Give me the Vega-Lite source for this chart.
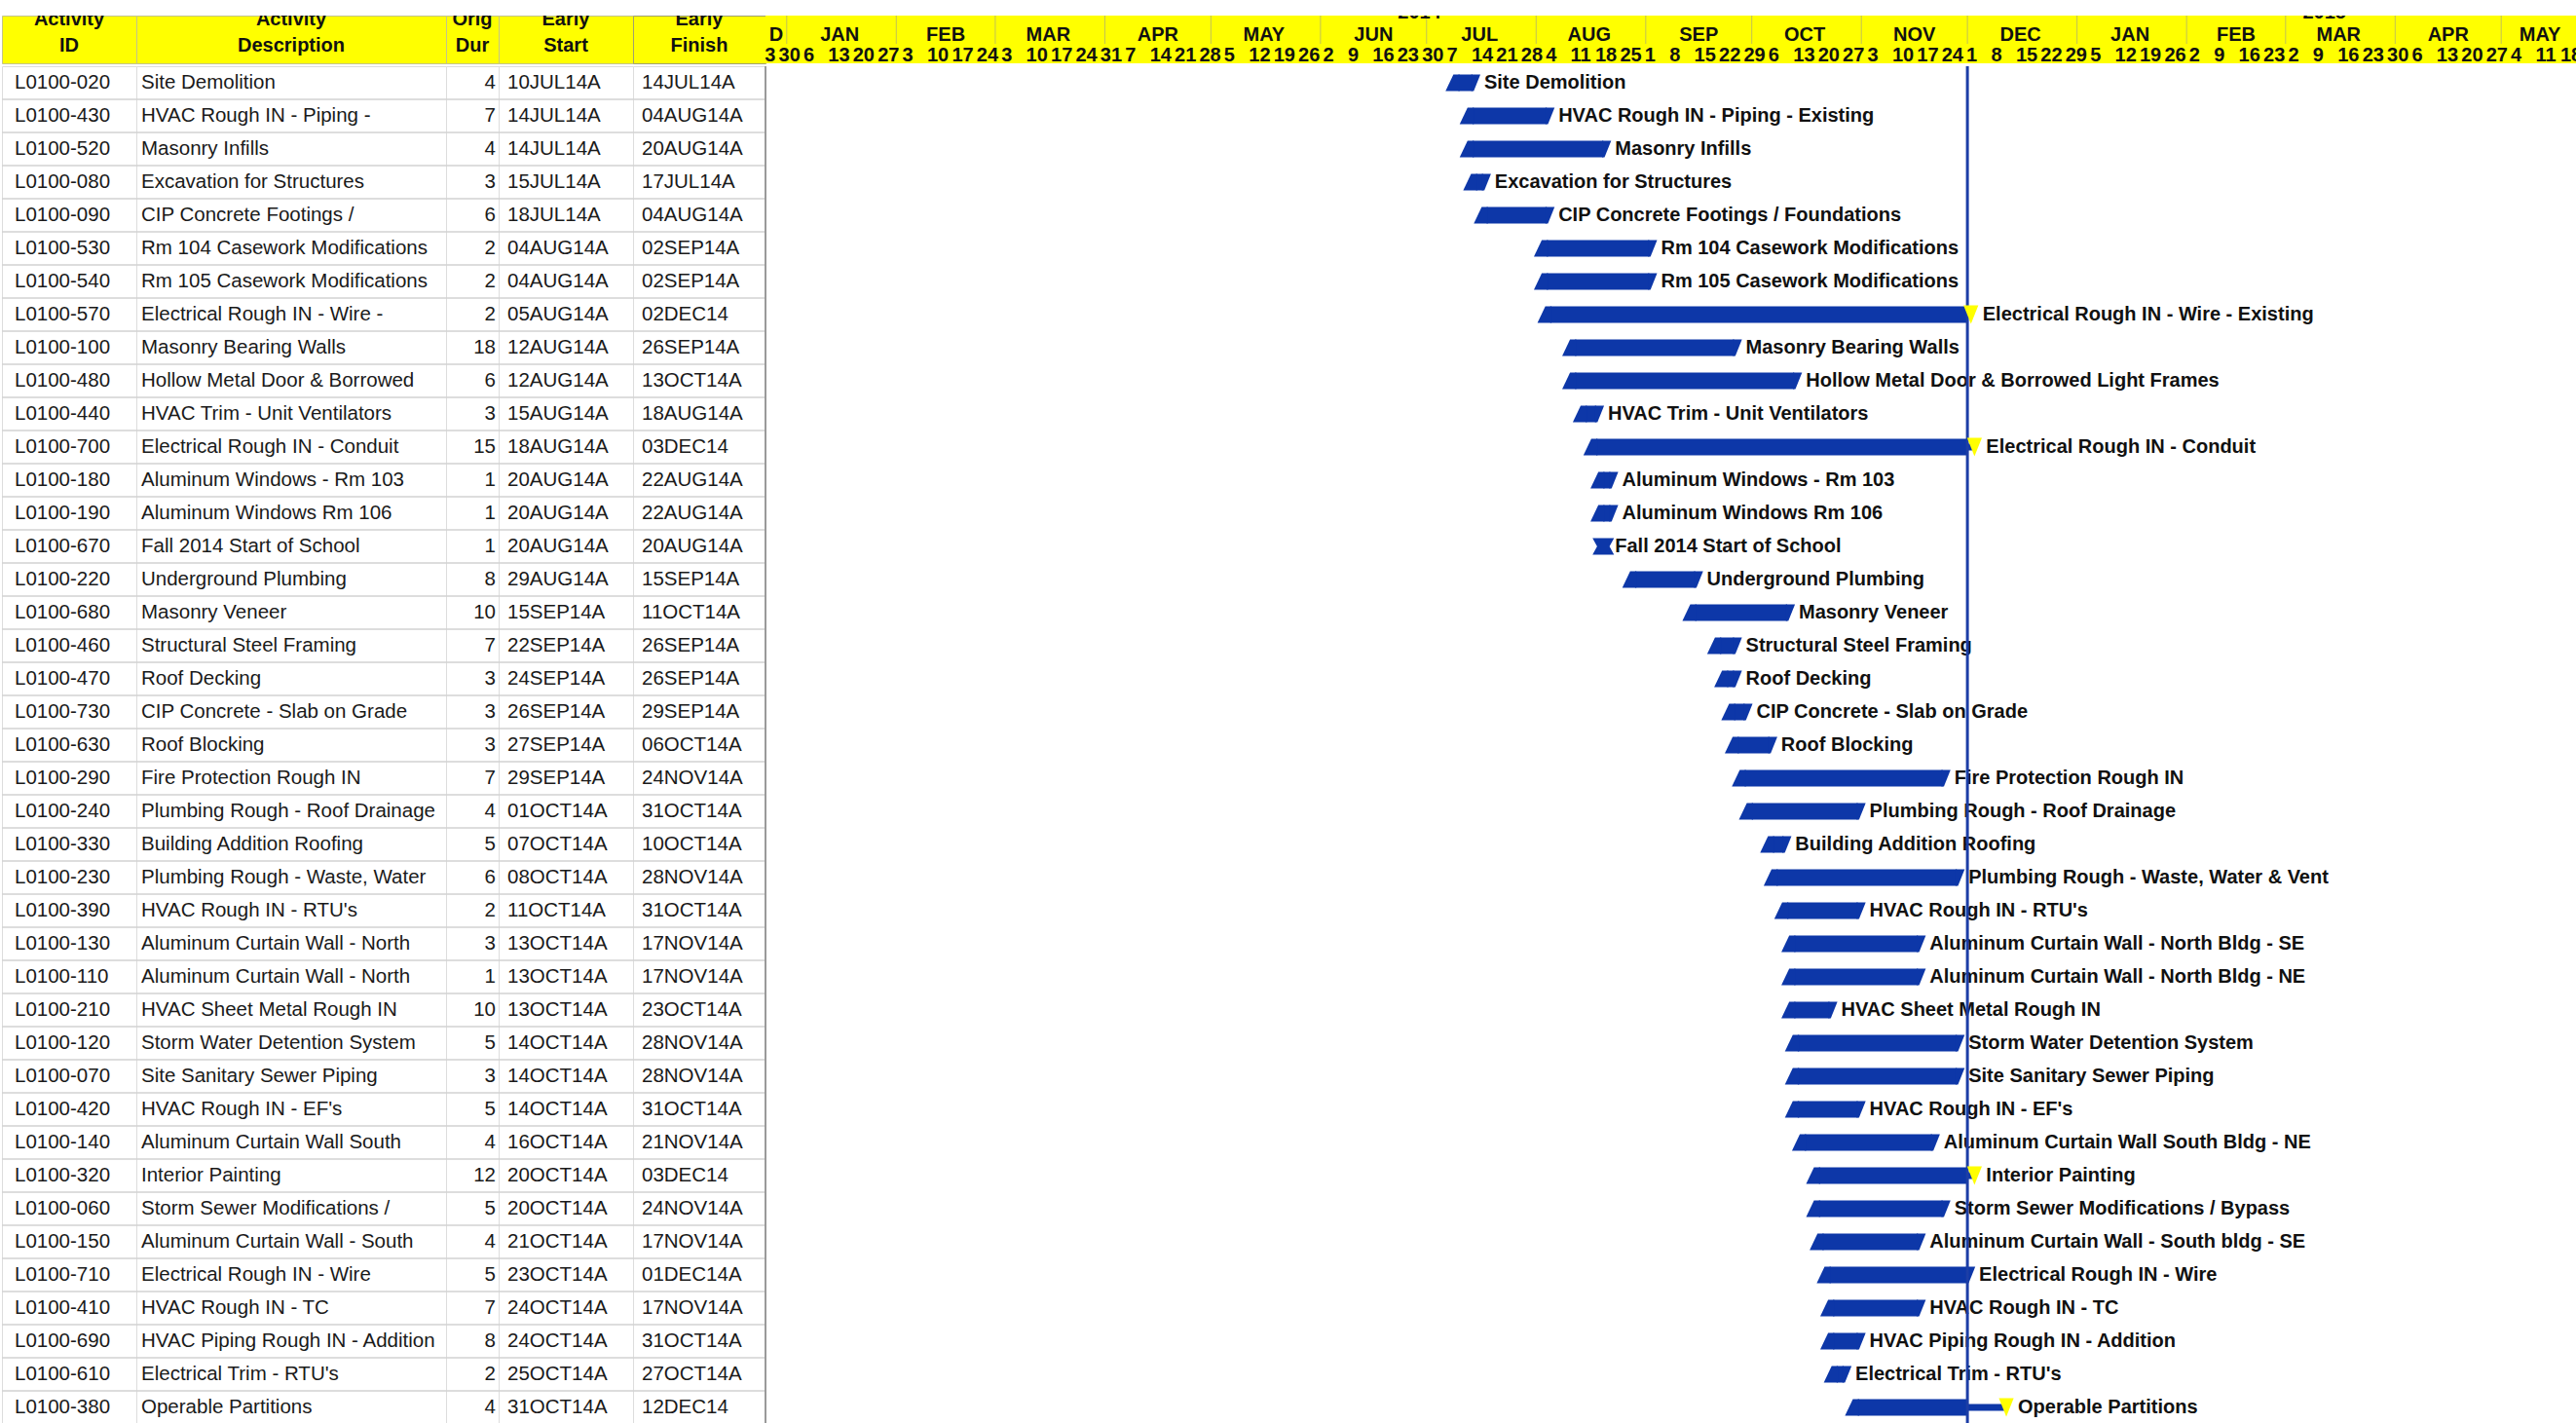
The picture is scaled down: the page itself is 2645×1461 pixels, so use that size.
{
  "$schema": "https://vega.github.io/schema/vega-lite/v6.json",
  "background": "white",
  "padding": {"top": 15, "left": 0, "right": 0, "bottom": 0},
  "spacing": 0,
  "datasets": {
    "headers": [
      {"col": "id", "line1": "Activity", "line2": "ID"},
      {"col": "desc", "line1": "Activity", "line2": "Description"},
      {"col": "dur", "line1": "Orig", "line2": "Dur"},
      {"col": "start", "line1": "Early", "line2": "Start"},
      {"col": "finish", "line1": "Early", "line2": "Finish"}
    ],
    "years": [
      {"year": "2014", "mid": "2014/06/29"},
      {"year": "2015", "mid": "2015/03/12"}
    ],
    "months": [
      {"label": "D", "start": "2013/12/01", "mid": "2013/12/29"},
      {"label": "JAN", "start": "2014/01/01", "mid": "2014/01/16"},
      {"label": "FEB", "start": "2014/02/01", "mid": "2014/02/15"},
      {"label": "MAR", "start": "2014/03/01", "mid": "2014/03/16"},
      {"label": "APR", "start": "2014/04/01", "mid": "2014/04/16"},
      {"label": "MAY", "start": "2014/05/01", "mid": "2014/05/16"},
      {"label": "JUN", "start": "2014/06/01", "mid": "2014/06/16"},
      {"label": "JUL", "start": "2014/07/01", "mid": "2014/07/16"},
      {"label": "AUG", "start": "2014/08/01", "mid": "2014/08/16"},
      {"label": "SEP", "start": "2014/09/01", "mid": "2014/09/16"},
      {"label": "OCT", "start": "2014/10/01", "mid": "2014/10/16"},
      {"label": "NOV", "start": "2014/11/01", "mid": "2014/11/16"},
      {"label": "DEC", "start": "2014/12/01", "mid": "2014/12/16"},
      {"label": "JAN", "start": "2015/01/01", "mid": "2015/01/16"},
      {"label": "FEB", "start": "2015/02/01", "mid": "2015/02/15"},
      {"label": "MAR", "start": "2015/03/01", "mid": "2015/03/16"},
      {"label": "APR", "start": "2015/04/01", "mid": "2015/04/16"},
      {"label": "MAY", "start": "2015/05/01", "mid": "2015/05/12"}
    ],
    "weeks": [
      {"w": "2013/12/23"}, {"w": "2013/12/30"},
      {"w": "2014/01/06"}, {"w": "2014/01/13"}, {"w": "2014/01/20"}, {"w": "2014/01/27"},
      {"w": "2014/02/03"}, {"w": "2014/02/10"}, {"w": "2014/02/17"}, {"w": "2014/02/24"},
      {"w": "2014/03/03"}, {"w": "2014/03/10"}, {"w": "2014/03/17"}, {"w": "2014/03/24"}, {"w": "2014/03/31"},
      {"w": "2014/04/07"}, {"w": "2014/04/14"}, {"w": "2014/04/21"}, {"w": "2014/04/28"},
      {"w": "2014/05/05"}, {"w": "2014/05/12"}, {"w": "2014/05/19"}, {"w": "2014/05/26"},
      {"w": "2014/06/02"}, {"w": "2014/06/09"}, {"w": "2014/06/16"}, {"w": "2014/06/23"}, {"w": "2014/06/30"},
      {"w": "2014/07/07"}, {"w": "2014/07/14"}, {"w": "2014/07/21"}, {"w": "2014/07/28"},
      {"w": "2014/08/04"}, {"w": "2014/08/11"}, {"w": "2014/08/18"}, {"w": "2014/08/25"},
      {"w": "2014/09/01"}, {"w": "2014/09/08"}, {"w": "2014/09/15"}, {"w": "2014/09/22"}, {"w": "2014/09/29"},
      {"w": "2014/10/06"}, {"w": "2014/10/13"}, {"w": "2014/10/20"}, {"w": "2014/10/27"},
      {"w": "2014/11/03"}, {"w": "2014/11/10"}, {"w": "2014/11/17"}, {"w": "2014/11/24"},
      {"w": "2014/12/01"}, {"w": "2014/12/08"}, {"w": "2014/12/15"}, {"w": "2014/12/22"}, {"w": "2014/12/29"},
      {"w": "2015/01/05"}, {"w": "2015/01/12"}, {"w": "2015/01/19"}, {"w": "2015/01/26"},
      {"w": "2015/02/02"}, {"w": "2015/02/09"}, {"w": "2015/02/16"}, {"w": "2015/02/23"},
      {"w": "2015/03/02"}, {"w": "2015/03/09"}, {"w": "2015/03/16"}, {"w": "2015/03/23"}, {"w": "2015/03/30"},
      {"w": "2015/04/06"}, {"w": "2015/04/13"}, {"w": "2015/04/20"}, {"w": "2015/04/27"},
      {"w": "2015/05/04"}, {"w": "2015/05/11"}, {"w": "2015/05/18"}
    ],
    "datadate": [{"d": "2014/12/01"}],
    "rows": [
      {"id": "L0100-020", "desc": "Site Demolition", "name": "Site Demolition", "dur": 4, "es": "10JUL14A", "ef": "14JUL14A", "start": "2014/07/10", "finish": "2014/07/14", "barEnd": "2014/07/14", "status": "done"},
      {"id": "L0100-430", "desc": "HVAC Rough IN - Piping -", "name": "HVAC Rough IN - Piping - Existing", "dur": 7, "es": "14JUL14A", "ef": "04AUG14A", "start": "2014/07/14", "finish": "2014/08/04", "barEnd": "2014/08/04", "status": "done"},
      {"id": "L0100-520", "desc": "Masonry Infills", "name": "Masonry Infills", "dur": 4, "es": "14JUL14A", "ef": "20AUG14A", "start": "2014/07/14", "finish": "2014/08/20", "barEnd": "2014/08/20", "status": "done"},
      {"id": "L0100-080", "desc": "Excavation for Structures", "name": "Excavation for Structures", "dur": 3, "es": "15JUL14A", "ef": "17JUL14A", "start": "2014/07/15", "finish": "2014/07/17", "barEnd": "2014/07/17", "status": "done"},
      {"id": "L0100-090", "desc": "CIP Concrete Footings /", "name": "CIP Concrete Footings / Foundations", "dur": 6, "es": "18JUL14A", "ef": "04AUG14A", "start": "2014/07/18", "finish": "2014/08/04", "barEnd": "2014/08/04", "status": "done"},
      {"id": "L0100-530", "desc": "Rm 104 Casework Modifications", "name": "Rm 104 Casework Modifications", "dur": 2, "es": "04AUG14A", "ef": "02SEP14A", "start": "2014/08/04", "finish": "2014/09/02", "barEnd": "2014/09/02", "status": "done"},
      {"id": "L0100-540", "desc": "Rm 105 Casework Modifications", "name": "Rm 105 Casework Modifications", "dur": 2, "es": "04AUG14A", "ef": "02SEP14A", "start": "2014/08/04", "finish": "2014/09/02", "barEnd": "2014/09/02", "status": "done"},
      {"id": "L0100-570", "desc": "Electrical Rough IN - Wire -", "name": "Electrical Rough IN - Wire - Existing", "dur": 2, "es": "05AUG14A", "ef": "02DEC14", "start": "2014/08/05", "finish": "2014/12/02", "barEnd": "2014/12/01", "status": "active"},
      {"id": "L0100-100", "desc": "Masonry Bearing Walls", "name": "Masonry Bearing Walls", "dur": 18, "es": "12AUG14A", "ef": "26SEP14A", "start": "2014/08/12", "finish": "2014/09/26", "barEnd": "2014/09/26", "status": "done"},
      {"id": "L0100-480", "desc": "Hollow Metal Door & Borrowed", "name": "Hollow Metal Door & Borrowed Light Frames", "dur": 6, "es": "12AUG14A", "ef": "13OCT14A", "start": "2014/08/12", "finish": "2014/10/13", "barEnd": "2014/10/13", "status": "done"},
      {"id": "L0100-440", "desc": "HVAC Trim - Unit Ventilators", "name": "HVAC Trim - Unit Ventilators", "dur": 3, "es": "15AUG14A", "ef": "18AUG14A", "start": "2014/08/15", "finish": "2014/08/18", "barEnd": "2014/08/18", "status": "done"},
      {"id": "L0100-700", "desc": "Electrical Rough IN - Conduit", "name": "Electrical Rough IN - Conduit", "dur": 15, "es": "18AUG14A", "ef": "03DEC14", "start": "2014/08/18", "finish": "2014/12/03", "barEnd": "2014/12/01", "status": "active"},
      {"id": "L0100-180", "desc": "Aluminum Windows - Rm 103", "name": "Aluminum Windows - Rm 103", "dur": 1, "es": "20AUG14A", "ef": "22AUG14A", "start": "2014/08/20", "finish": "2014/08/22", "barEnd": "2014/08/22", "status": "done"},
      {"id": "L0100-190", "desc": "Aluminum Windows Rm 106", "name": "Aluminum Windows Rm 106", "dur": 1, "es": "20AUG14A", "ef": "22AUG14A", "start": "2014/08/20", "finish": "2014/08/22", "barEnd": "2014/08/22", "status": "done"},
      {"id": "L0100-670", "desc": "Fall 2014 Start of School", "name": "Fall 2014 Start of School", "dur": 1, "es": "20AUG14A", "ef": "20AUG14A", "start": "2014/08/20", "finish": "2014/08/20", "barEnd": "2014/08/20", "status": "milestone"},
      {"id": "L0100-220", "desc": "Underground Plumbing", "name": "Underground Plumbing", "dur": 8, "es": "29AUG14A", "ef": "15SEP14A", "start": "2014/08/29", "finish": "2014/09/15", "barEnd": "2014/09/15", "status": "done"},
      {"id": "L0100-680", "desc": "Masonry Veneer", "name": "Masonry Veneer", "dur": 10, "es": "15SEP14A", "ef": "11OCT14A", "start": "2014/09/15", "finish": "2014/10/11", "barEnd": "2014/10/11", "status": "done"},
      {"id": "L0100-460", "desc": "Structural Steel Framing", "name": "Structural Steel Framing", "dur": 7, "es": "22SEP14A", "ef": "26SEP14A", "start": "2014/09/22", "finish": "2014/09/26", "barEnd": "2014/09/26", "status": "done"},
      {"id": "L0100-470", "desc": "Roof Decking", "name": "Roof Decking", "dur": 3, "es": "24SEP14A", "ef": "26SEP14A", "start": "2014/09/24", "finish": "2014/09/26", "barEnd": "2014/09/26", "status": "done"},
      {"id": "L0100-730", "desc": "CIP Concrete - Slab on Grade", "name": "CIP Concrete - Slab on Grade", "dur": 3, "es": "26SEP14A", "ef": "29SEP14A", "start": "2014/09/26", "finish": "2014/09/29", "barEnd": "2014/09/29", "status": "done"},
      {"id": "L0100-630", "desc": "Roof Blocking", "name": "Roof Blocking", "dur": 3, "es": "27SEP14A", "ef": "06OCT14A", "start": "2014/09/27", "finish": "2014/10/06", "barEnd": "2014/10/06", "status": "done"},
      {"id": "L0100-290", "desc": "Fire Protection Rough IN", "name": "Fire Protection Rough IN", "dur": 7, "es": "29SEP14A", "ef": "24NOV14A", "start": "2014/09/29", "finish": "2014/11/24", "barEnd": "2014/11/24", "status": "done"},
      {"id": "L0100-240", "desc": "Plumbing Rough - Roof Drainage", "name": "Plumbing Rough - Roof Drainage", "dur": 4, "es": "01OCT14A", "ef": "31OCT14A", "start": "2014/10/01", "finish": "2014/10/31", "barEnd": "2014/10/31", "status": "done"},
      {"id": "L0100-330", "desc": "Building Addition Roofing", "name": "Building Addition Roofing", "dur": 5, "es": "07OCT14A", "ef": "10OCT14A", "start": "2014/10/07", "finish": "2014/10/10", "barEnd": "2014/10/10", "status": "done"},
      {"id": "L0100-230", "desc": "Plumbing Rough - Waste, Water", "name": "Plumbing Rough - Waste, Water & Vent", "dur": 6, "es": "08OCT14A", "ef": "28NOV14A", "start": "2014/10/08", "finish": "2014/11/28", "barEnd": "2014/11/28", "status": "done"},
      {"id": "L0100-390", "desc": "HVAC Rough IN - RTU's", "name": "HVAC Rough IN - RTU's", "dur": 2, "es": "11OCT14A", "ef": "31OCT14A", "start": "2014/10/11", "finish": "2014/10/31", "barEnd": "2014/10/31", "status": "done"},
      {"id": "L0100-130", "desc": "Aluminum Curtain Wall - North", "name": "Aluminum Curtain Wall - North Bldg - SE", "dur": 3, "es": "13OCT14A", "ef": "17NOV14A", "start": "2014/10/13", "finish": "2014/11/17", "barEnd": "2014/11/17", "status": "done"},
      {"id": "L0100-110", "desc": "Aluminum Curtain Wall - North", "name": "Aluminum Curtain Wall - North Bldg - NE", "dur": 1, "es": "13OCT14A", "ef": "17NOV14A", "start": "2014/10/13", "finish": "2014/11/17", "barEnd": "2014/11/17", "status": "done"},
      {"id": "L0100-210", "desc": "HVAC Sheet Metal Rough IN", "name": "HVAC Sheet Metal Rough IN", "dur": 10, "es": "13OCT14A", "ef": "23OCT14A", "start": "2014/10/13", "finish": "2014/10/23", "barEnd": "2014/10/23", "status": "done"},
      {"id": "L0100-120", "desc": "Storm Water Detention System", "name": "Storm Water Detention System", "dur": 5, "es": "14OCT14A", "ef": "28NOV14A", "start": "2014/10/14", "finish": "2014/11/28", "barEnd": "2014/11/28", "status": "done"},
      {"id": "L0100-070", "desc": "Site Sanitary Sewer Piping", "name": "Site Sanitary Sewer Piping", "dur": 3, "es": "14OCT14A", "ef": "28NOV14A", "start": "2014/10/14", "finish": "2014/11/28", "barEnd": "2014/11/28", "status": "done"},
      {"id": "L0100-420", "desc": "HVAC Rough IN - EF's", "name": "HVAC Rough IN - EF's", "dur": 5, "es": "14OCT14A", "ef": "31OCT14A", "start": "2014/10/14", "finish": "2014/10/31", "barEnd": "2014/10/31", "status": "done"},
      {"id": "L0100-140", "desc": "Aluminum Curtain Wall South", "name": "Aluminum Curtain Wall South Bldg - NE", "dur": 4, "es": "16OCT14A", "ef": "21NOV14A", "start": "2014/10/16", "finish": "2014/11/21", "barEnd": "2014/11/21", "status": "done"},
      {"id": "L0100-320", "desc": "Interior Painting", "name": "Interior Painting", "dur": 12, "es": "20OCT14A", "ef": "03DEC14", "start": "2014/10/20", "finish": "2014/12/03", "barEnd": "2014/12/01", "status": "active"},
      {"id": "L0100-060", "desc": "Storm Sewer Modifications /", "name": "Storm Sewer Modifications / Bypass", "dur": 5, "es": "20OCT14A", "ef": "24NOV14A", "start": "2014/10/20", "finish": "2014/11/24", "barEnd": "2014/11/24", "status": "done"},
      {"id": "L0100-150", "desc": "Aluminum Curtain Wall - South", "name": "Aluminum Curtain Wall - South bldg - SE", "dur": 4, "es": "21OCT14A", "ef": "17NOV14A", "start": "2014/10/21", "finish": "2014/11/17", "barEnd": "2014/11/17", "status": "done"},
      {"id": "L0100-710", "desc": "Electrical Rough IN - Wire", "name": "Electrical Rough IN - Wire", "dur": 5, "es": "23OCT14A", "ef": "01DEC14A", "start": "2014/10/23", "finish": "2014/12/01", "barEnd": "2014/12/01", "status": "done"},
      {"id": "L0100-410", "desc": "HVAC Rough IN - TC", "name": "HVAC Rough IN - TC", "dur": 7, "es": "24OCT14A", "ef": "17NOV14A", "start": "2014/10/24", "finish": "2014/11/17", "barEnd": "2014/11/17", "status": "done"},
      {"id": "L0100-690", "desc": "HVAC Piping Rough IN - Addition", "name": "HVAC Piping Rough IN - Addition", "dur": 8, "es": "24OCT14A", "ef": "31OCT14A", "start": "2014/10/24", "finish": "2014/10/31", "barEnd": "2014/10/31", "status": "done"},
      {"id": "L0100-610", "desc": "Electrical Trim - RTU's", "name": "Electrical Trim - RTU's", "dur": 2, "es": "25OCT14A", "ef": "27OCT14A", "start": "2014/10/25", "finish": "2014/10/27", "barEnd": "2014/10/27", "status": "done"},
      {"id": "L0100-380", "desc": "Operable Partitions", "name": "Operable Partitions", "dur": 4, "es": "31OCT14A", "ef": "12DEC14", "start": "2014/10/31", "finish": "2014/12/12", "barEnd": "2014/12/01", "status": "active"}
    ]
  },
  "vconcat": [
    {
      "spacing": 0,
      "bounds": "flush",
      "hconcat": [
        {
          "width": 138, "height": 49,
          "view": {"fill": "#ffff00", "stroke": "#c4c48a"},
          "data": {"name": "headers"},
          "transform": [{"filter": "datum.col == 'id'"}],
          "layer": [
            {"mark": {"type": "text", "font": "Liberation Sans", "fontWeight": "bold", "fontSize": 20, "dy": -20.5, "clip": true, "color": "#111111"}, "encoding": {"text": {"field": "line1"}}},
            {"mark": {"type": "text", "font": "Liberation Sans", "fontWeight": "bold", "fontSize": 20, "dy": 6.5, "clip": true, "color": "#111111"}, "encoding": {"text": {"field": "line2"}}}
          ]
        },
        {
          "width": 318, "height": 49,
          "view": {"fill": "#ffff00", "stroke": "#c4c48a"},
          "data": {"name": "headers"},
          "transform": [{"filter": "datum.col == 'desc'"}],
          "layer": [
            {"mark": {"type": "text", "font": "Liberation Sans", "fontWeight": "bold", "fontSize": 20, "dy": -20.5, "clip": true, "color": "#111111"}, "encoding": {"text": {"field": "line1"}}},
            {"mark": {"type": "text", "font": "Liberation Sans", "fontWeight": "bold", "fontSize": 20, "dy": 6.5, "clip": true, "color": "#111111"}, "encoding": {"text": {"field": "line2"}}}
          ]
        },
        {
          "width": 54, "height": 49,
          "view": {"fill": "#ffff00", "stroke": "#c4c48a"},
          "data": {"name": "headers"},
          "transform": [{"filter": "datum.col == 'dur'"}],
          "layer": [
            {"mark": {"type": "text", "font": "Liberation Sans", "fontWeight": "bold", "fontSize": 20, "dy": -20.5, "clip": true, "color": "#111111"}, "encoding": {"text": {"field": "line1"}}},
            {"mark": {"type": "text", "font": "Liberation Sans", "fontWeight": "bold", "fontSize": 20, "dy": 6.5, "clip": true, "color": "#111111"}, "encoding": {"text": {"field": "line2"}}}
          ]
        },
        {
          "width": 138, "height": 49,
          "view": {"fill": "#ffff00", "stroke": "#c4c48a"},
          "data": {"name": "headers"},
          "transform": [{"filter": "datum.col == 'start'"}],
          "layer": [
            {"mark": {"type": "text", "font": "Liberation Sans", "fontWeight": "bold", "fontSize": 20, "dy": -20.5, "clip": true, "color": "#111111"}, "encoding": {"text": {"field": "line1"}}},
            {"mark": {"type": "text", "font": "Liberation Sans", "fontWeight": "bold", "fontSize": 20, "dy": 6.5, "clip": true, "color": "#111111"}, "encoding": {"text": {"field": "line2"}}}
          ]
        },
        {
          "width": 136, "height": 49,
          "view": {"fill": "#ffff00", "stroke": "#a0a070"},
          "data": {"name": "headers"},
          "transform": [{"filter": "datum.col == 'finish'"}],
          "layer": [
            {"mark": {"type": "text", "font": "Liberation Sans", "fontWeight": "bold", "fontSize": 20, "dy": -20.5, "clip": true, "color": "#111111"}, "encoding": {"text": {"field": "line1"}}},
            {"mark": {"type": "text", "font": "Liberation Sans", "fontWeight": "bold", "fontSize": 20, "dy": 6.5, "clip": true, "color": "#111111"}, "encoding": {"text": {"field": "line2"}}}
          ]
        },
        {
          "width": 1861, "height": 49,
          "view": {"fill": "#ffff00", "stroke": null},
          "layer": [
            {
              "data": {"name": "months"},
              "mark": {"type": "tick", "orient": "vertical", "size": 29, "thickness": 1, "yOffset": -10, "color": "#a8a878", "clip": true},
              "encoding": {"x": {"field": "start", "type": "temporal", "axis": null, "scale": {"domain": [{"year": 2013, "month": 12, "date": 26}, {"year": 2015, "month": 5, "date": 22, "hours": 17}], "nice": false}}}
            },
            {
              "data": {"name": "months"},
              "mark": {"type": "text", "font": "Liberation Sans", "fontWeight": "bold", "fontSize": 20, "dy": -4.5, "clip": true, "color": "#111111"},
              "encoding": {"x": {"field": "mid", "type": "temporal", "axis": null}, "text": {"field": "label"}}
            },
            {
              "data": {"name": "weeks"},
              "mark": {"type": "text", "font": "Liberation Sans", "fontWeight": "bold", "fontSize": 20, "align": "left", "dx": -1, "dy": 16.5, "clip": true, "color": "#111111"},
              "encoding": {"x": {"field": "w", "type": "temporal", "axis": null}, "text": {"field": "w", "type": "temporal", "format": "%-d"}}
            },
            {
              "data": {"name": "years"},
              "mark": {"type": "text", "font": "Liberation Sans", "fontWeight": "bold", "fontSize": 20, "dy": -27.5, "clip": true, "color": "#111111"},
              "encoding": {"x": {"field": "mid", "type": "temporal", "axis": null}, "text": {"field": "year"}}
            }
          ]
        }
      ]
    },
    {
      "spacing": 0,
      "bounds": "flush",
      "hconcat": [
        {
          "width": 138, "height": 1394,
          "view": {"stroke": "#dddddd"},
          "data": {"name": "rows"},
          "layer": [
            {"mark": {"type": "rule", "color": "#d2d2d2", "strokeWidth": 1.5}, "encoding": {"y": {"field": "id", "type": "nominal", "sort": null, "bandPosition": 1, "axis": null, "scale": {"type": "band", "paddingInner": 0, "paddingOuter": 0}}}},
            {"mark": {"type": "text", "font": "Liberation Sans", "fontSize": 20.5, "align": "left", "dx": -56, "color": "#1a1a1a"}, "encoding": {"y": {"field": "id", "type": "nominal", "sort": null, "axis": null}, "text": {"field": "id"}}}
          ]
        },
        {
          "width": 318, "height": 1394,
          "view": {"stroke": "#dddddd"},
          "data": {"name": "rows"},
          "layer": [
            {"mark": {"type": "rule", "color": "#d2d2d2", "strokeWidth": 1.5}, "encoding": {"y": {"field": "id", "type": "nominal", "sort": null, "bandPosition": 1, "axis": null, "scale": {"type": "band", "paddingInner": 0, "paddingOuter": 0}}}},
            {"mark": {"type": "text", "font": "Liberation Sans", "fontSize": 20.5, "align": "left", "dx": -154, "color": "#1a1a1a"}, "encoding": {"y": {"field": "id", "type": "nominal", "sort": null, "axis": null}, "text": {"field": "desc"}}}
          ]
        },
        {
          "width": 54, "height": 1394,
          "view": {"stroke": "#dddddd"},
          "data": {"name": "rows"},
          "layer": [
            {"mark": {"type": "rule", "color": "#d2d2d2", "strokeWidth": 1.5}, "encoding": {"y": {"field": "id", "type": "nominal", "sort": null, "bandPosition": 1, "axis": null, "scale": {"type": "band", "paddingInner": 0, "paddingOuter": 0}}}},
            {"mark": {"type": "text", "font": "Liberation Sans", "fontSize": 20.5, "align": "right", "dx": 24, "color": "#1a1a1a"}, "encoding": {"y": {"field": "id", "type": "nominal", "sort": null, "axis": null}, "text": {"field": "dur"}}}
          ]
        },
        {
          "width": 138, "height": 1394,
          "view": {"stroke": "#dddddd"},
          "data": {"name": "rows"},
          "layer": [
            {"mark": {"type": "rule", "color": "#d2d2d2", "strokeWidth": 1.5}, "encoding": {"y": {"field": "id", "type": "nominal", "sort": null, "bandPosition": 1, "axis": null, "scale": {"type": "band", "paddingInner": 0, "paddingOuter": 0}}}},
            {"mark": {"type": "text", "font": "Liberation Sans", "fontSize": 20.5, "align": "left", "dx": -60, "color": "#1a1a1a"}, "encoding": {"y": {"field": "id", "type": "nominal", "sort": null, "axis": null}, "text": {"field": "es"}}}
          ]
        },
        {
          "width": 136, "height": 1394,
          "view": {"stroke": "#dddddd"},
          "data": {"name": "rows"},
          "layer": [
            {"mark": {"type": "rule", "color": "#d2d2d2", "strokeWidth": 1.5}, "encoding": {"y": {"field": "id", "type": "nominal", "sort": null, "bandPosition": 1, "axis": null, "scale": {"type": "band", "paddingInner": 0, "paddingOuter": 0}}}},
            {"mark": {"type": "text", "font": "Liberation Sans", "fontSize": 20.5, "align": "left", "dx": -59, "color": "#1a1a1a"}, "encoding": {"y": {"field": "id", "type": "nominal", "sort": null, "axis": null}, "text": {"field": "ef"}}}
          ]
        },
        {
          "width": 1861, "height": 1394,
          "data": {"name": "rows"},
          "encoding": {
            "y": {"field": "id", "type": "nominal", "sort": null, "axis": null, "scale": {"type": "band", "paddingInner": 0, "paddingOuter": 0}}
          },
          "layer": [
            {
              "mark": {"type": "bar", "height": 17, "color": "#0d37a8"},
              "encoding": {
                "x": {"field": "start", "type": "temporal", "axis": null, "scale": {"domain": [{"year": 2013, "month": 12, "date": 26}, {"year": 2015, "month": 5, "date": 22, "hours": 17}], "nice": false}},
                "x2": {"field": "barEnd"},
                "opacity": {"condition": {"test": "datum.status !== 'milestone'", "value": 1}, "value": 0}
              }
            },
            {
              "mark": {"type": "point", "shape": "M0.15,-1 L-0.6,-1 L-1.55,1 L0.15,1 Z", "size": 289, "filled": true, "strokeWidth": 0, "color": "#0d37a8"},
              "encoding": {
                "x": {"field": "start", "type": "temporal"},
                "opacity": {"condition": {"test": "datum.status !== 'milestone'", "value": 1}, "value": 0}
              }
            },
            {
              "mark": {"type": "point", "shape": "M-0.15,-1 L0.95,-1 L0.15,1 L-0.15,1 Z", "size": 289, "filled": true, "strokeWidth": 0, "color": "#0d37a8"},
              "encoding": {
                "x": {"field": "barEnd", "type": "temporal"},
                "opacity": {"condition": {"test": "datum.status === 'done'", "value": 1}, "value": 0}
              }
            },
            {
              "mark": {"type": "bar", "height": 7, "color": "#0d37a8"},
              "encoding": {
                "x": {"field": "barEnd", "type": "temporal"},
                "x2": {"field": "finish"},
                "opacity": {"condition": {"test": "datum.status === 'active'", "value": 1}, "value": 0}
              }
            },
            {
              "mark": {"type": "point", "shape": "M-1.3,-1 L1.3,-1 L0.75,0 L1.3,1 L-1.3,1 L-0.75,0 Z", "size": 289, "filled": true, "strokeWidth": 0, "color": "#0d37a8"},
              "encoding": {
                "x": {"field": "start", "type": "temporal"},
                "opacity": {"condition": {"test": "datum.status === 'milestone'", "value": 1}, "value": 0}
              }
            },
            {
              "mark": {"type": "text", "font": "Liberation Sans", "fontWeight": "bold", "fontSize": 20, "align": "left", "dx": 12, "color": "#111111"},
              "encoding": {
                "x": {"field": "finish", "type": "temporal"},
                "text": {"field": "name"}
              }
            },
            {
              "data": {"name": "datadate"},
              "mark": {"type": "rule", "color": "#1c3ea6", "strokeWidth": 3},
              "encoding": {"x": {"field": "d", "type": "temporal"}, "y": null}
            },
            {
              "mark": {"type": "point", "shape": "M-0.8,-1 L0.8,-1 L0,1 Z", "size": 361, "filled": true, "strokeWidth": 0, "color": "#ffff00"},
              "encoding": {
                "x": {"field": "finish", "type": "temporal"},
                "opacity": {"condition": {"test": "datum.status === 'active'", "value": 1}, "value": 0}
              }
            },
            {
              "data": {"name": "datadate"},
              "mark": {"type": "rule", "color": "#9a9a9a", "strokeWidth": 2},
              "encoding": {"x": {"datum": {"year": 2013, "month": 12, "date": 26}, "type": "temporal"}, "y": null}
            }
          ]
        }
      ]
    }
  ],
  "config": {
    "view": {"stroke": null},
    "concat": {"spacing": 0},
    "text": {"font": "Liberation Sans"}
  }
}
